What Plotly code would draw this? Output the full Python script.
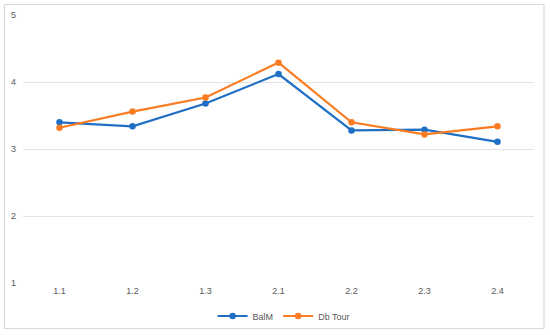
import plotly.graph_objects as go

categories = ["1.1", "1.2", "1.3", "2.1", "2.2", "2.3", "2.4"]
balm = [3.40, 3.34, 3.68, 4.12, 3.28, 3.29, 3.11]
db_tour = [3.32, 3.56, 3.77, 4.29, 3.40, 3.22, 3.34]
y_ticks = [1, 2, 3, 4, 5]

W, H = 550, 335
L, R, T, B = 23, 15.5, 15, 51
pw, ph = W - L - R, H - T - B

fig = go.Figure()
fig.add_trace(go.Scatter(x=categories, y=balm, name="BalM", mode="lines+markers",
                         line=dict(color="#1F6FC5", width=2.2),
                         marker=dict(size=6.5, color="#1F6FC5")))
fig.add_trace(go.Scatter(x=categories, y=db_tour, name="Db Tour", mode="lines+markers",
                         line=dict(color="#F97C22", width=2.2),
                         marker=dict(size=6.5, color="#F97C22")))

def px_x(p):
    return (p - L) / pw

def px_y(p):
    return (H - B - p) / ph

fig.add_shape(type="rect", xref="paper", yref="paper",
              x0=px_x(4.5), x1=px_x(544.5), y0=px_y(328.5), y1=px_y(4.5),
              line=dict(color="#D9D9D9", width=1.2), layer="below")

fig.update_layout(
    width=W, height=H,
    margin=dict(l=L, r=R, t=T, b=B, autoexpand=False),
    paper_bgcolor="white", plot_bgcolor="white",
    font=dict(family="Liberation Sans, Arial, sans-serif", size=9, color="#595959"),
    xaxis=dict(type="category", showgrid=False, zeroline=False, showline=False,
               ticks="", tickfont=dict(size=9, color="#595959"), automargin=False,
               range=[-0.5, len(categories) - 0.5]),
    yaxis=dict(range=[0.99, 5], tickvals=y_ticks, showgrid=True, gridcolor="#E3E3E3",
               gridwidth=1, zeroline=False, showline=False, ticks="", automargin=False,
               tickfont=dict(size=9, color="#595959"), ticklabelstandoff=6),
    legend=dict(orientation="h", x=0.51, xanchor="center", y=px_y(316), yanchor="middle",
                font=dict(size=9, color="#595959"), itemwidth=30, bgcolor="rgba(0,0,0,0)"),
    showlegend=True,
)

fig.write_html("out.html", config={"displayModeBar": False},
               post_script="document.body.style.margin='0';document.body.style.overflow='hidden';")
